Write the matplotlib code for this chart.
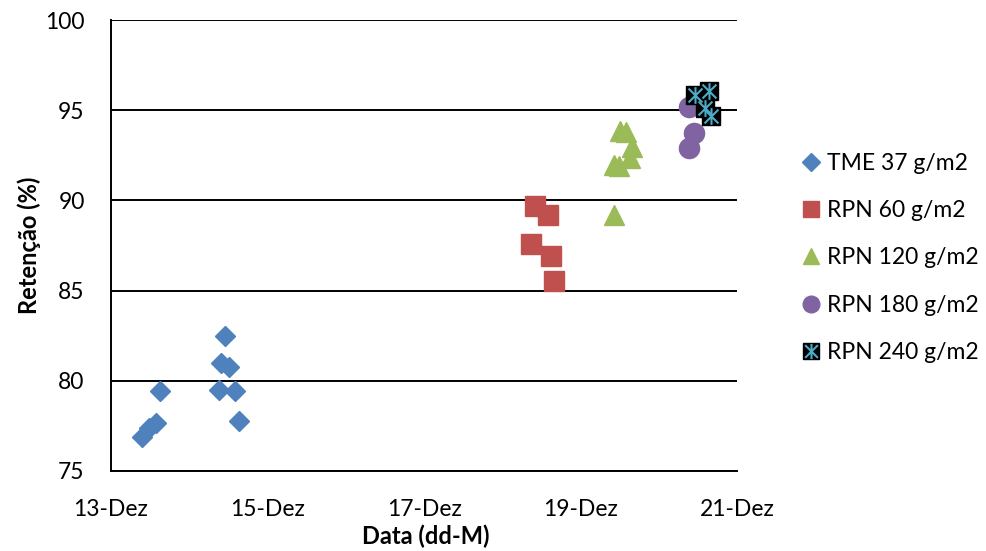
import numpy as np
import matplotlib.pyplot as plt
from matplotlib.path import Path

plt.rcParams['font.family'] = ['Lato', 'DejaVu Sans']

# Sampling day (day of December, fractional) and retention (%) per series
tme37_day = [13.40, 13.48, 13.58, 13.63, 14.46, 14.41, 14.51, 14.38, 14.58, 14.63]
tme37_ret = [76.90, 77.37, 77.64, 79.45, 82.50, 80.97, 80.75, 79.49, 79.45, 77.79]

rpn60_day = [18.41, 18.58, 18.37, 18.62, 18.66]
rpn60_ret = [89.69, 89.17, 87.60, 86.92, 85.53]

rpn120_day = [19.50, 19.58, 19.66, 19.63, 19.42, 19.49, 19.42]
rpn120_ret = [93.85, 93.79, 92.96, 92.35, 91.96, 91.91, 89.19]

rpn180_day = [20.38, 20.45, 20.38]
rpn180_ret = [95.19, 93.72, 92.89]

rpn240_day = [20.46, 20.64, 20.59, 20.66]
rpn240_ret = [95.84, 96.06, 95.12, 94.68]

x_ticks = [13, 15, 17, 19, 21]
x_labels = ['13-Dez', '15-Dez', '17-Dez', '19-Dez', '21-Dez']
y_ticks = [75, 80, 85, 90, 95, 100]

# Asterisk marker (two diagonals + vertical) drawn over a black square
star = Path([(-1, -1), (1, 1), (-1, 1), (1, -1), (0, -1.2), (0, 1.2)],
            [Path.MOVETO, Path.LINETO, Path.MOVETO, Path.LINETO, Path.MOVETO, Path.LINETO])

fig = plt.figure(figsize=(9.87, 5.51), dpi=100)
ax = fig.add_axes([0.1125, 0.1452, 0.6345, 0.8185])

ax.plot(tme37_day, tme37_ret, 'D', color='#4f81bd', ms=10.5, mec='#4f81bd', zorder=3)
ax.plot(rpn60_day, rpn60_ret, 's', color='#c0504d', ms=14, mec='#c0504d', zorder=3)
ax.plot(rpn120_day, rpn120_ret, '^', color='#9bbb59', ms=14, mec='#9bbb59', zorder=3)
ax.plot(rpn180_day, rpn180_ret, 'o', color='#8064a2', ms=14.5, mec='#8064a2', zorder=3)
ax.plot(rpn240_day, rpn240_ret, 's', color='black', ms=13, mec='black', zorder=4)
ax.plot(rpn240_day, rpn240_ret, marker=star, ls='none', ms=12, mfc='none',
        mec='#4bacc6', mew=1.5, zorder=5)

ax.set_xlim(13, 21)
ax.set_ylim(75, 100)
ax.set_xticks(x_ticks)
ax.set_xticklabels(x_labels)
ax.set_yticks(y_ticks)
ax.tick_params(length=0, labelsize=16.5)
ax.tick_params(axis='y', pad=19)
ax.tick_params(axis='x', pad=20)

ax.yaxis.grid(True, color='black', lw=1.4)
ax.set_axisbelow(True)
for side in ['top', 'right']:
    ax.spines[side].set_visible(False)
for side in ['left', 'bottom']:
    ax.spines[side].set_linewidth(1.4)

ax.set_xlabel('Data (dd-M)', fontsize=17, fontweight='bold')
ax.set_ylabel('Retenção (%)', fontsize=17, fontweight='bold')
ax.xaxis.set_label_coords(0.502, -0.118)
ax.yaxis.set_label_coords(-0.112, 0.5)

# Legend handles (smaller markers, as a separate key)
h1, = ax.plot([], [], 'D', color='#4f81bd', ms=9)
h2, = ax.plot([], [], 's', color='#c0504d', ms=12)
h3, = ax.plot([], [], '^', color='#9bbb59', ms=12)
h4, = ax.plot([], [], 'o', color='#8064a2', ms=12)
h5a, = ax.plot([], [], 's', color='black', ms=12)
h5b, = ax.plot([], [], marker=star, ls='none', ms=11, mfc='none', mec='#4bacc6', mew=1.5)
fig.legend([h1, h2, h3, h4, (h5a, h5b)],
           ['TME 37 g/m2', 'RPN 60 g/m2', 'RPN 120 g/m2', 'RPN 180 g/m2', 'RPN 240 g/m2'],
           loc='center left', bbox_to_anchor=(0.812, 0.532), frameon=False,
           fontsize=16.5, handlelength=0.8, handletextpad=0.3, labelspacing=1.15,
           borderpad=0, borderaxespad=0)

fig.savefig('out.png', dpi=100)
